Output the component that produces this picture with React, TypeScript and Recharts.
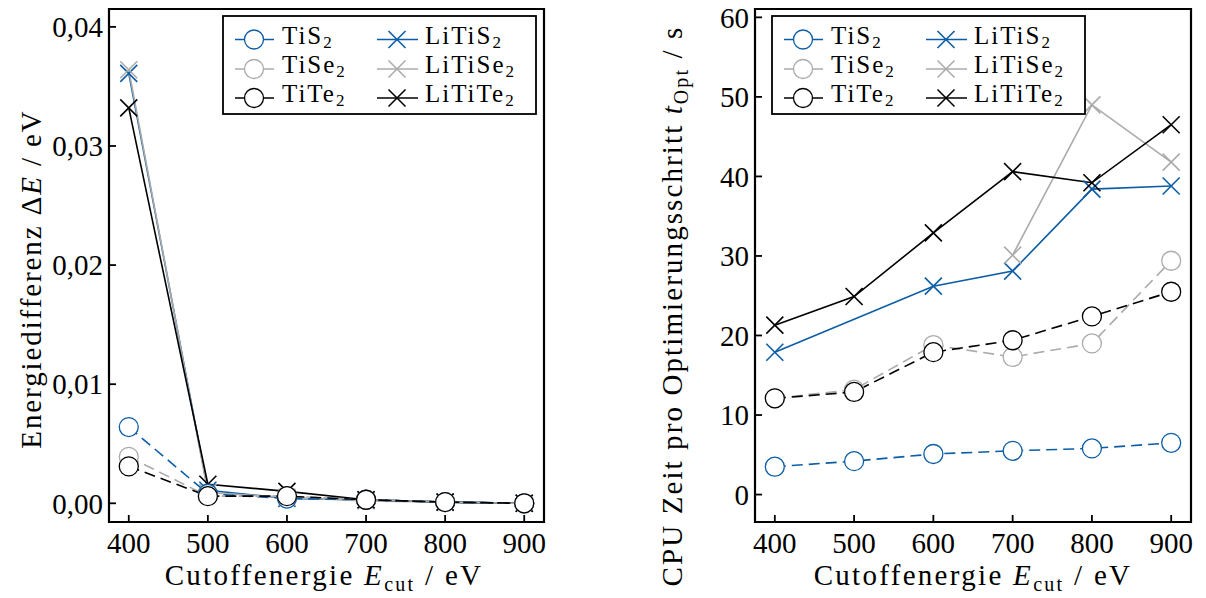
import React from "react";
import { LineChart, Line, XAxis, YAxis, ReferenceArea } from "recharts";

const cutoff = [400, 500, 600, 700, 800, 900];
const xTicks = [400, 500, 600, 700, 800, 900];

// Energiedifferenz ΔE / eV
const dE_TiS2 = [0.0064, 0.0008, 0.0004, 0.0003, 0.0001, 0.0];
const dE_TiSe2 = [0.0039, 0.0006, 0.0006, 0.0003, 0.0001, 0.0];
const dE_TiTe2 = [0.0031, 0.0006, 0.0006, 0.0003, 0.0001, 0.0];
const dE_LiTiS2 = [0.0361, 0.0011, 0.0004, 0.0003, 0.0001, 0.0];
const dE_LiTiSe2 = [0.0364, 0.0009, 0.0005, 0.0002, 0.0001, 0.0];
const dE_LiTiTe2 = [0.0332, 0.0016, 0.001, 0.0003, 0.0001, 0.0];
const dETicks = [0, 0.01, 0.02, 0.03, 0.04];

// CPU Zeit pro Optimierungsschritt / s
const t_TiS2 = [3.5, 4.2, 5.1, 5.5, 5.8, 6.5];
const t_TiSe2 = [12.1, 13.2, 18.8, 17.3, 19.0, 29.4];
const t_TiTe2 = [12.1, 12.9, 17.9, 19.4, 22.4, 25.5];
const t_LiTiS2 = [17.9, null, 26.2, 28.1, 38.4, 38.8];
const t_LiTiSe2 = [null, null, null, 30.1, 49.0, 41.8];
const t_LiTiTe2 = [21.3, 24.9, 32.9, 40.6, 39.2, 46.5];
const tTicks = [0, 10, 20, 30, 40, 50, 60];

const BLUE = "#0C5DA5";
const GREY = "#ABABAB";
const BLACK = "#000000";
const FONT = "Liberation Serif, DejaVu Serif, Times New Roman, serif";
const FS = 29;
const LEG_FS = 25;

// drawing order: LiTi* first, circles on top
const series = [
  { key: "LiTiS2", base: "LiTiS", color: BLUE, marker: "x", dashed: false },
  { key: "LiTiSe2", base: "LiTiSe", color: GREY, marker: "x", dashed: false },
  { key: "LiTiTe2", base: "LiTiTe", color: BLACK, marker: "x", dashed: false },
  { key: "TiS2", base: "TiS", color: BLUE, marker: "o", dashed: true },
  { key: "TiSe2", base: "TiSe", color: GREY, marker: "o", dashed: true },
  { key: "TiTe2", base: "TiTe", color: BLACK, marker: "o", dashed: true },
];

const energyRows = cutoff.map((x, i) => ({
  x,
  TiS2: dE_TiS2[i],
  TiSe2: dE_TiSe2[i],
  TiTe2: dE_TiTe2[i],
  LiTiS2: dE_LiTiS2[i],
  LiTiSe2: dE_LiTiSe2[i],
  LiTiTe2: dE_LiTiTe2[i],
}));

const timeRows = cutoff.map((x, i) => ({
  x,
  TiS2: t_TiS2[i],
  TiSe2: t_TiSe2[i],
  TiTe2: t_TiTe2[i],
  LiTiS2: t_LiTiS2[i],
  LiTiSe2: t_LiTiSe2[i],
  LiTiTe2: t_LiTiTe2[i],
}));

function Marker({ cx, cy, color, type }: any) {
  if (cx == null || cy == null || isNaN(cy)) return <g />;
  if (type === "o") {
    return <circle cx={cx} cy={cy} r={9.5} fill="#fff" stroke={color} strokeWidth={1.3} />;
  }
  const s = 8.5;
  return (
    <g stroke={color} strokeWidth={1.6}>
      <line x1={cx - s} y1={cy - s} x2={cx + s} y2={cy + s} />
      <line x1={cx - s} y1={cy + s} x2={cx + s} y2={cy - s} />
    </g>
  );
}

const X_DOMAIN: [number, number] = [375, 925];

function Panel({ rows, yDomain, yTicks, fmt, yAxisWidth, width, marginRight }: any) {
  return (
    <LineChart
      width={width}
      height={598}
      data={rows}
      margin={{ top: 9, right: marginRight, bottom: 0, left: 0 }}
      style={{ fontFamily: FONT }}
    >
      <XAxis
        type="number"
        dataKey="x"
        domain={X_DOMAIN}
        ticks={xTicks}
        interval={0}
        allowDataOverflow
        height={76}
        axisLine={false}
        tickSize={-7}
        tickMargin={17}
        tickLine={{ stroke: "#000", strokeWidth: 1.8 }}
        tick={{ fill: "#000", fontSize: FS, fontFamily: FONT }}
      />
      <YAxis
        type="number"
        domain={yDomain}
        ticks={yTicks}
        interval={0}
        allowDataOverflow
        width={yAxisWidth}
        axisLine={false}
        tickSize={-7}
        tickMargin={13}
        tickFormatter={fmt}
        tickLine={{ stroke: "#000", strokeWidth: 1.8 }}
        tick={{ fill: "#000", fontSize: FS, fontFamily: FONT }}
      />
      {series.map((s) => (
        <Line
          key={s.key}
          type="linear"
          dataKey={s.key}
          stroke={s.color}
          strokeWidth={1.6}
          strokeDasharray={s.dashed ? "11 6" : undefined}
          connectNulls
          isAnimationActive={false}
          dot={(p: any) => (
            <Marker key={`${s.key}-${p.index}`} cx={p.cx} cy={p.cy} color={s.color} type={s.marker} />
          )}
          activeDot={false}
        />
      ))}
      <ReferenceArea
        x1={X_DOMAIN[0]}
        x2={X_DOMAIN[1]}
        y1={yDomain[0]}
        y2={yDomain[1]}
        fill="none"
        fillOpacity={0}
        stroke="#000"
        strokeWidth={2.2}
        ifOverflow="visible"
      />
    </LineChart>
  );
}

function LegendBox({ x, y }: { x: number; y: number }) {
  const rowsY = [23.5, 53, 82];
  const cols = [
    [series[3], series[4], series[5]],
    [series[0], series[1], series[2]],
  ];
  const colX = [
    { h0: 12, h1: 51, m: 31, t: 59 },
    { h0: 154, h1: 195, m: 174, t: 202 },
  ];
  return (
    <g transform={`translate(${x},${y})`}>
      <rect x={0} y={0} width={313} height={98} fill="#fff" stroke="#000" strokeWidth={1.8} />
      {cols.map((col, ci) =>
        col.map((s, ri) => {
          const cy = rowsY[ri];
          const c = colX[ci];
          return (
            <g key={s.key}>
              <line x1={c.h0} y1={cy} x2={c.h1} y2={cy} stroke={s.color} strokeWidth={1.6} />
              <Marker cx={c.m} cy={cy} color={s.color} type={s.marker} />
              <text x={c.t} y={cy + 4} fontFamily={FONT} fontSize={LEG_FS} fill="#000" letterSpacing={2}>
                {s.base}
                <tspan fontSize={17} dy={4}>2</tspan>
              </text>
            </g>
          );
        })
      )}
    </g>
  );
}

export default function App() {
  return (
    <div
      style={{
        position: "fixed",
        left: 0,
        top: 0,
        width: 1206,
        height: 598,
        background: "#fff",
        fontFamily: FONT,
      }}
    >
      <div style={{ position: "absolute", left: 0, top: 0 }}>
        <Panel
          rows={energyRows}
          yDomain={[-0.00157, 0.0415]}
          yTicks={dETicks}
          fmt={(v: number) => v.toFixed(2).replace(".", ",")}
          yAxisWidth={109}
          width={600}
          marginRight={56}
        />
      </div>
      <div style={{ position: "absolute", left: 600, top: 0 }}>
        <Panel
          rows={timeRows}
          yDomain={[-3.45, 61.05]}
          yTicks={tTicks}
          fmt={(v: number) => String(v)}
          yAxisWidth={155}
          width={606}
          marginRight={15}
        />
      </div>
      <svg
        width={1206}
        height={598}
        style={{ position: "absolute", left: 0, top: 0, pointerEvents: "none" }}
      >
        <LegendBox x={223} y={16} />
        <LegendBox x={772} y={16} />
        <text x={324} y={585} textAnchor="middle" fontFamily={FONT} fontSize={FS} letterSpacing={2.3}>
          Cutoffenergie <tspan fontStyle="italic">E</tspan>
          <tspan fontSize={20} dy={6}>cut</tspan>
          <tspan dy={-6}> / eV</tspan>
        </text>
        <text x={973} y={585} textAnchor="middle" fontFamily={FONT} fontSize={FS} letterSpacing={2.3}>
          Cutoffenergie <tspan fontStyle="italic">E</tspan>
          <tspan fontSize={20} dy={6}>cut</tspan>
          <tspan dy={-6}> / eV</tspan>
        </text>
        <text
          transform="translate(41,279) rotate(-90)"
          textAnchor="middle"
          fontFamily={FONT}
          fontSize={FS}
          letterSpacing={1.9}
        >
          Energiedifferenz Δ<tspan fontStyle="italic">E</tspan> / eV
        </text>
        <text
          transform="translate(682,306) rotate(-90)"
          textAnchor="middle"
          fontFamily={FONT}
          fontSize={FS}
          letterSpacing={2.1}
        >
          CPU Zeit pro Optimierungsschritt <tspan fontStyle="italic">t</tspan>
          <tspan fontSize={20} dy={6}>Opt</tspan>
          <tspan dy={-6}> / s</tspan>
        </text>
      </svg>
    </div>
  );
}
